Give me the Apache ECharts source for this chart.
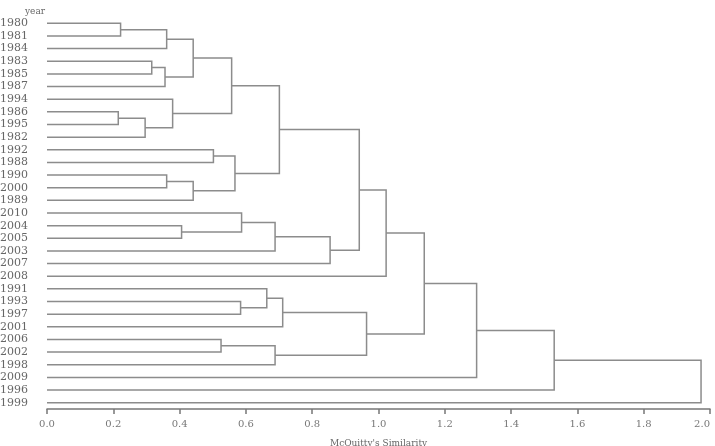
<!DOCTYPE html>
<html lang="en">
  <head>
    <meta charset="UTF-8" />
    <title>Dendrogram</title>
    <script src="https://cdn.jsdelivr.net/npm/echarts@6/dist/echarts.min.js"></script>
    <style>
      html, body { margin: 0; padding: 0; background: #fff; }
      #main { width: 715px; height: 446px; }
    </style>
  </head>
  <body>
    <div id="main"></div>
    <script>
      // leaf order, top to bottom
      var leaves = ["1980", "1981", "1984", "1983", "1985", "1987", "1994", "1986", "1995", "1982",
        "1992", "1988", "1990", "2000", "1989", "2010", "2004", "2005", "2003", "2007", "2008",
        "1991", "1993", "1997", "2001", "2006", "2002", "1998", "2009", "1996", "1999"];

      // merges: left, right, height ("mN" = result of merge N)
      var mergeLeft = ["1980", "m0", "1983", "m2", "m1", "1986", "m5", "1994", "m4", "1992",
        "1990", "m10", "m9", "m8", "2004", "2010", "m15", "m16", "m13", "m18",
        "1993", "1991", "m21", "2006", "m23", "m22", "m19", "m26", "m27", "m28"];
      var mergeRight = ["1981", "1984", "1985", "1987", "m3", "1995", "1982", "m6", "m7", "1988",
        "2000", "1989", "m11", "m12", "2005", "m14", "2003", "2007", "m17", "2008",
        "1997", "m20", "2001", "2002", "1998", "m24", "m25", "2009", "1996", "1999"];
      var mergeHeight = [0.222, 0.361, 0.316, 0.356, 0.441, 0.215, 0.296, 0.379, 0.557, 0.502,
        0.361, 0.441, 0.567, 0.701, 0.406, 0.587, 0.688, 0.854, 0.942, 1.023,
        0.584, 0.663, 0.711, 0.525, 0.688, 0.964, 1.138, 1.296, 1.530, 1.973];

      // node position: [height, y index]
      var nodes = {};
      leaves.forEach(function (name, i) { nodes[name] = [0, i]; });
      var links = [];
      mergeHeight.forEach(function (h, k) {
        var a = nodes[mergeLeft[k]], b = nodes[mergeRight[k]];
        links.push([a[0], a[1], b[0], b[1], h]);
        nodes["m" + k] = [h, (a[1] + b[1]) / 2];
      });

      var font = "DejaVu Serif";
      var chart = echarts.init(document.getElementById("main"));
      chart.setOption({
        animation: false,
        title: {
          text: "year", left: 20, top: 2,
          textStyle: { fontFamily: font, fontSize: 9, fontWeight: "normal", color: "#666" }
        },
        grid: { left: 47, right: 5, top: 17, bottom: 37, containLabel: false, outerBoundsMode: "none" },
        xAxis: {
          type: "value", min: 0, max: 2, interval: 0.2, position: "bottom",
          name: "McQuitty's Similarity", nameLocation: "middle", nameGap: 30,
          nameTextStyle: { fontFamily: font, fontSize: 9, color: "#666" },
          axisLine: { show: true, onZero: false, lineStyle: { color: "#777", width: 1.5 } },
          axisTick: { show: true, length: 5, lineStyle: { color: "#777", width: 1.5 } },
          axisLabel: {
            margin: 10, fontFamily: font, fontSize: 10, color: "#777", alignMaxLabel: "right",
            formatter: function (v) { return v.toFixed(1); }
          },
          splitLine: { show: false }
        },
        yAxis: [
          { type: "value", min: -0.5, max: 30.5, inverse: true, show: false },
          {
            type: "category", data: leaves, inverse: true, position: "left",
            axisLine: { show: false }, axisTick: { show: false },
            axisLabel: { interval: 0, margin: 19, fontFamily: font, fontSize: 11, color: "#666" }
          }
        ],
        series: [{
          type: "custom",
          yAxisIndex: 0,
          data: links,
          encode: { x: [0, 2, 4], y: [1, 3] },
          renderItem: function (params, api) {
            var p1 = api.coord([api.value(0), api.value(1)]);
            var p2 = api.coord([api.value(4), api.value(1)]);
            var p3 = api.coord([api.value(4), api.value(3)]);
            var p4 = api.coord([api.value(2), api.value(3)]);
            return {
              type: "polyline",
              shape: { points: [p1, p2, p3, p4] },
              style: { stroke: "#8c8c8c", lineWidth: 1.5, fill: null }
            };
          }
        }]
      });
    </script>
  </body>
</html>
